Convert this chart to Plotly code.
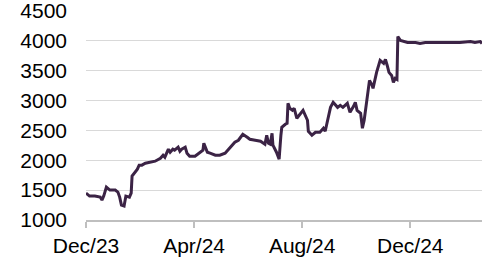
import plotly.graph_objects as go

dates = [
    "2023-12-01", "2023-12-05", "2023-12-11", "2023-12-17", "2023-12-19", "2023-12-21",
    "2023-12-24", "2023-12-28", "2024-01-03", "2024-01-06", "2024-01-08", "2024-01-10",
    "2024-01-13", "2024-01-15", "2024-01-19", "2024-01-21", "2024-01-22", "2024-01-25",
    "2024-01-28", "2024-01-30", "2024-02-02", "2024-02-06", "2024-02-11", "2024-02-17",
    "2024-02-23", "2024-02-26", "2024-02-28", "2024-03-03", "2024-03-05", "2024-03-08",
    "2024-03-10", "2024-03-14", "2024-03-16", "2024-03-18", "2024-03-22", "2024-03-24",
    "2024-03-27", "2024-04-02", "2024-04-05", "2024-04-08", "2024-04-11", "2024-04-12",
    "2024-04-16", "2024-04-19", "2024-04-25", "2024-04-30", "2024-05-06", "2024-05-09",
    "2024-05-12", "2024-05-17", "2024-05-21", "2024-05-23", "2024-05-26", "2024-05-31",
    "2024-06-03", "2024-06-09", "2024-06-15", "2024-06-20", "2024-06-22", "2024-06-24",
    "2024-06-26", "2024-06-28", "2024-06-29", "2024-07-03", "2024-07-06", "2024-07-08",
    "2024-07-09", "2024-07-13", "2024-07-15", "2024-07-16", "2024-07-18", "2024-07-21",
    "2024-07-23", "2024-07-26", "2024-07-30", "2024-08-02", "2024-08-07", "2024-08-08",
    "2024-08-10", "2024-08-12", "2024-08-16", "2024-08-21", "2024-08-25", "2024-08-27",
    "2024-08-29", "2024-09-02", "2024-09-05", "2024-09-10", "2024-09-13", "2024-09-16",
    "2024-09-21", "2024-09-24", "2024-09-28", "2024-09-30", "2024-10-02", "2024-10-06",
    "2024-10-08", "2024-10-10", "2024-10-13", "2024-10-16", "2024-10-19", "2024-10-20",
    "2024-10-24", "2024-10-26", "2024-10-28", "2024-11-01", "2024-11-03", "2024-11-05",
    "2024-11-07", "2024-11-10", "2024-11-12", "2024-11-14", "2024-11-16", "2024-11-17",
    "2024-11-20", "2024-11-28", "2024-12-07", "2024-12-12", "2024-12-18", "2025-01-04",
    "2025-01-26", "2025-02-07", "2025-02-12", "2025-02-18", "2025-02-20",
]

values = [
    1450, 1400, 1400, 1383, 1333, 1400,
    1550, 1500, 1500, 1467, 1383, 1250,
    1233, 1400, 1383, 1450, 1733, 1783,
    1850, 1917, 1917, 1950, 1967, 1983,
    2033, 2083, 2050, 2183, 2133, 2183,
    2167, 2217, 2150, 2183, 2217, 2117,
    2067, 2067, 2100, 2133, 2167, 2283,
    2133, 2117, 2083, 2083, 2117, 2167,
    2217, 2300, 2333, 2367, 2433, 2383,
    2350, 2333, 2317, 2267, 2417, 2283,
    2267, 2450, 2250, 2133, 2017, 2417,
    2550, 2600, 2617, 2950, 2867, 2833,
    2867, 2700, 2783, 2833, 2667, 2483,
    2450, 2417, 2467, 2467, 2533, 2483,
    2617, 2883, 2967, 2883, 2917, 2883,
    2950, 2800, 2900, 2967, 2833, 2783,
    2533, 2667, 3000, 3333, 3250, 3200,
    3467, 3583, 3667, 3617, 3683, 3583,
    3467, 3417, 3300, 3367, 3350, 4067,
    4000, 3967, 3967, 3950, 3967, 3967,
    3967, 3983, 3967, 3983, 3950,
]

x_tickvals = ["2023-12-01", "2024-04-01", "2024-08-01", "2024-12-01"]
x_ticktext = ["Dec/23", "Apr/24", "Aug/24", "Dec/24"]
y_tickvals = [1000, 1500, 2000, 2500, 3000, 3500, 4000, 4500]

fig = go.Figure()
fig.add_trace(go.Scatter(
    x=dates, y=values, mode="lines",
    line=dict(color="#3b2345", width=3),
    hoverinfo="skip",
))

fig.update_layout(
    width=491, height=271,
    margin=dict(l=86, r=9, t=10, b=51),
    paper_bgcolor="white", plot_bgcolor="white",
    showlegend=False,
    font=dict(family="Liberation Sans, Arial, sans-serif", size=21, color="#000000"),
)
fig.update_xaxes(
    type="date", automargin=False,
    range=["2023-12-01", "2025-02-20"],
    tickvals=x_tickvals, ticktext=x_ticktext,
    showgrid=False,
    showline=True, linecolor="#bfbfbf", linewidth=2,
    ticks="outside", ticklen=6, tickwidth=2, tickcolor="#bfbfbf",
    zeroline=False, ticklabeloverflow="allow",
)
fig.update_yaxes(
    automargin=False,
    range=[1000, 4510],
    tickvals=y_tickvals,
    showgrid=True, gridcolor="#d9d9d9", gridwidth=1,
    showline=False, zeroline=False,
    ticks="", ticklabelstandoff=18, ticklabeloverflow="allow",
)

fig.write_html("out.html")
